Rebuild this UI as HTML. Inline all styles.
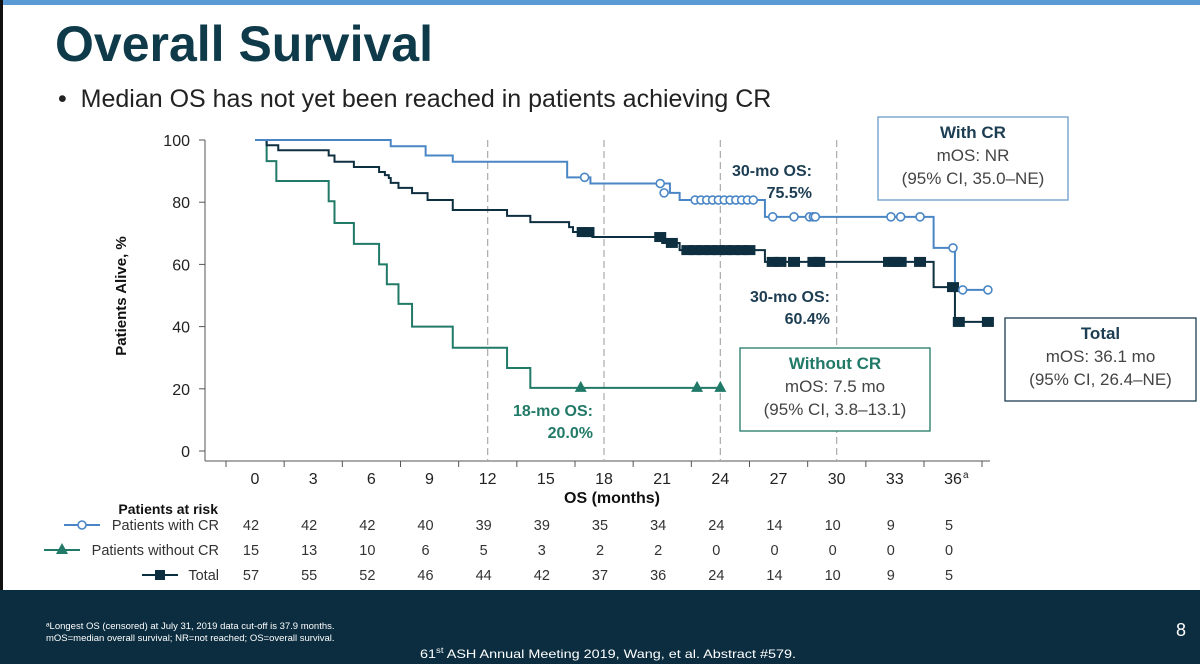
<!DOCTYPE html>
<html><head><meta charset="utf-8">
<style>
body{margin:0;width:1200px;height:664px;overflow:hidden;background:#fff;font-family:"Liberation Sans",Arial,sans-serif;position:relative}
.abs{position:absolute}
</style></head>
<body>
<div class="abs" style="left:0;top:0;width:1200px;height:5px;background:#5b9bd5"></div>
<div class="abs" style="left:0;top:0;width:3px;height:590px;background:#111"></div>
<div class="abs" style="left:55px;top:15px;font-size:50px;font-weight:bold;color:#0e3a4a">Overall Survival</div>
<div class="abs" style="left:58px;top:85px;font-size:25px;color:#222">•&nbsp; Median OS has not yet been reached in patients achieving CR</div>
<svg class="abs" style="left:0;top:0" width="1200" height="590" id="chart"></svg>
<div class="abs" style="left:0;top:590px;width:1200px;height:74px;background:#0b2d3f;color:#fff">
  <div class="abs" style="left:46px;top:31px;font-size:9.5px;line-height:12px">ᵃLongest OS (censored) at July 31, 2019 data cut-off is 37.9 months.<br>mOS=median overall survival; NR=not reached; OS=overall survival.</div>
  <div class="abs" style="left:420px;top:56px;font-size:12px;transform:scaleX(1.2);transform-origin:left top;white-space:nowrap">61<sup style="font-size:8px">st</sup> ASH Annual Meeting 2019, Wang, et al. Abstract #579.</div>
  <div class="abs" style="left:1176px;top:30px;font-size:18px">8</div>
</div>
<script>
const xTicks=[0,3,6,9,12,15,18,21,24,27,30,33,36];
const yTicks=[0,20,40,60,80,100];
const dashedMonths=[12,18,24,30];
const crTimes=[0,7.0,8.8,10.2,16.1,17.3,21.4,21.9,26.3,35.0,36.1,37.8];
const crVals=[100,98,95,93,88,86,83,80.7,75.3,65.3,51.8,51.8];
const crCens=[[17.0,88],[20.9,86],[21.1,83],[22.7,80.7],[23.0,80.7],[23.3,80.7],[23.6,80.7],[23.9,80.7],[24.2,80.7],[24.5,80.7],[24.8,80.7],[25.1,80.7],[25.4,80.7],[25.7,80.7],[26.7,75.3],[27.8,75.3],[28.6,75.3],[28.8,75.3],[28.9,75.3],[32.8,75.3],[33.3,75.3],[34.3,75.3],[36.0,65.3],[36.5,51.8],[37.8,51.8]];
const ncrTimes=[0,0.6,1.1,3.8,4.1,5.1,6.4,6.8,7.4,8.1,10.2,13.0,14.2,24.0];
const ncrVals=[100,93.2,86.8,80.3,73.3,66.6,60,53.6,47.3,40,33.2,26.7,20.3,20.3];
const ncrCens=[[16.8,20.3],[22.8,20.3],[24.0,20.3]];
const totTimes=[0,0.6,1.2,3.8,4.1,5.1,6.4,6.7,6.9,7.0,7.4,8.1,8.9,10.2,13.0,14.2,16.2,16.4,17.4,21.0,21.9,26.3,35.0,36.1,37.8];
const totVals=[100,98.3,96.7,95,93,91.3,89.7,88.7,87.8,86.2,84.6,82.9,80.7,77.5,75.6,73.6,72,70.4,68.8,66.9,64.6,60.8,52.7,41.5,41.5];
const totCens=[[16.9,70.4],[17.2,70.4],[20.9,68.8],[21.5,66.9],[22.3,64.6],[22.7,64.6],[23.1,64.6],[23.5,64.6],[23.9,64.6],[24.3,64.6],[24.7,64.6],[25.1,64.6],[25.5,64.6],[26.7,60.8],[27.1,60.8],[27.8,60.8],[28.8,60.8],[29.1,60.8],[32.7,60.8],[33.0,60.8],[33.3,60.8],[34.3,60.8],[36.0,52.7],[36.3,41.5],[37.8,41.5]];
const riskCR=[42,42,42,40,39,39,35,34,24,14,10,9,5];
const riskNCR=[15,13,10,6,5,3,2,2,0,0,0,0,0];
const riskTot=[57,55,52,46,44,42,37,36,24,14,10,9,5];

const X=t=>255+t*(953-255)/36;
const Y=v=>451-v*3.11;
const NS='http://www.w3.org/2000/svg';
const svg=document.getElementById('chart');
function mk(tag,attrs,parent){const e=document.createElementNS(NS,tag);for(const k in attrs)e.setAttribute(k,attrs[k]);(parent||svg).appendChild(e);return e;}
function txt(x,y,s,attrs){const e=mk('text',Object.assign({x:x,y:y},attrs||{}));e.textContent=s;return e;}

let ax=mk('line',{x1:205,y1:140,x2:205,y2:461,stroke:'#555','stroke-width':1});


let axx=mk('line',{x1:205,y1:461,x2:990,y2:461,stroke:'#555','stroke-width':1});


yTicks.forEach(v=>{
  mk('line',{x1:199,y1:Y(v),x2:205,y2:Y(v),stroke:'#555'});
  const t=txt(190,Y(v)+6,String(v),{'font-size':16,'text-anchor':'end',fill:'#222'});
  
  
});
xTicks.forEach((m,i)=>{
  mk('line',{x1:X(m)-29,y1:461,x2:X(m)-29,y2:467,stroke:'#555'});
  const t=txt(X(m),484,String(m),{'font-size':16,'text-anchor':'middle',fill:'#222'});
  
  
});
mk('line',{x1:X(36)+29,y1:461,x2:X(36)+29,y2:467,stroke:'#555'});
txt(X(36)+10,478,'a',{'font-size':10,fill:'#222'});
dashedMonths.forEach(m=>{
  const l=mk('line',{x1:X(m),y1:140,x2:X(m),y2:461,stroke:'#aaa','stroke-dasharray':'7,4','stroke-width':1.2});
  
  
});
const xt=txt(612,503,'OS (months)',{'font-size':16,'font-weight':'bold','text-anchor':'middle',fill:'#111'});


const yt=txt(0,0,'Patients Alive, %',{'font-size':15,'font-weight':'bold','text-anchor':'middle',fill:'#111',transform:'translate(126,296) rotate(-90)'});



function stepPath(ts,vs){let d='M'+X(ts[0])+','+Y(vs[0]);for(let i=1;i<ts.length;i++){d+=' H'+X(ts[i])+' V'+Y(vs[i]);}return d;}
const colCR='#4a86c5',colN='#217a67',colT='#0e2f40';
let p1=mk('path',{d:stepPath(ncrTimes,ncrVals),fill:'none',stroke:colN,'stroke-width':2});


let p2=mk('path',{d:stepPath(totTimes,totVals),fill:'none',stroke:colT,'stroke-width':2});


let p3=mk('path',{d:stepPath(crTimes,crVals),fill:'none',stroke:colCR,'stroke-width':2});


totCens.forEach(c=>{const r=mk('rect',{x:X(c[0])-6,y:Y(c[1])-5,width:12,height:10,fill:colT});
  
  });
crCens.forEach(c=>{const r=mk('circle',{cx:X(c[0]),cy:Y(c[1]),r:4,fill:'#fff',stroke:colCR,'stroke-width':1.6});
  
  });
ncrCens.forEach(c=>{const x=X(c[0]),y=Y(c[1]);const r=mk('polygon',{points:(x-6)+','+(y+4)+' '+(x+6)+','+(y+4)+' '+x+','+(y-7),fill:colN});
  
  });

function ann(x,y,lines,col,name){lines.forEach((s,i)=>{const t=txt(x,y+i*22,s,{'font-size':16,'font-weight':'bold','text-anchor':'end',fill:col});
  
  });}
ann(812,176,['30-mo OS:','75.5%'],'#1c3d52','cr-30mo-annotation');
ann(830,302,['30-mo OS:','60.4%'],'#1c3d52','total-30mo-annotation');
ann(593,416,['18-mo OS:','20.0%'],colN,'without-cr-18mo-annotation');
function box(x,y,w,h,stroke,title,tcol,l2,l3,name){
  const r=mk('rect',{x:x,y:y,width:w,height:h,fill:'#fff',stroke:stroke,'stroke-width':1.3});
  
  
  txt(x+w/2,y+21,title,{'font-size':17,'font-weight':'bold','text-anchor':'middle',fill:tcol});
  txt(x+w/2,y+44,l2,{'font-size':17,'text-anchor':'middle',fill:'#444'});
  txt(x+w/2,y+67,l3,{'font-size':17,'text-anchor':'middle',fill:'#444'});
}
box(878,117,190,83,'#6a9cc9','With CR','#1c3d52','mOS: NR','(95% CI, 35.0–NE)','with-cr-box');
box(1005,318,191,83,'#1c3d52','Total','#1c3d52','mOS: 36.1 mo','(95% CI, 26.4–NE)','total-box');
box(740,348,190,83,colN,'Without CR',colN,'mOS: 7.5 mo','(95% CI, 3.8–13.1)','without-cr-box');

const h=txt(218,514,'Patients at risk',{'font-size':14,'font-weight':'bold','text-anchor':'end',fill:'#111'});


const rows=[[riskCR,'Patients with CR',530,colCR,'c',64],[riskNCR,'Patients without CR',555,colN,'t',44],[riskTot,'Total',580,colT,'s',142]];
rows.forEach(r=>{
  const lab=txt(219,r[2],r[1],{'font-size':14.5,'text-anchor':'end',fill:'#333'});
  
  
  const lx=r[5],cy=r[2]-5;
  mk('line',{x1:lx,y1:cy,x2:lx+36,y2:cy,stroke:r[3],'stroke-width':2});
  const mx=lx+18;
  if(r[4]=='c')mk('circle',{cx:mx,cy:cy,r:4,fill:'#fff',stroke:r[3],'stroke-width':1.6});
  if(r[4]=='t')mk('polygon',{points:(mx-6)+','+(cy+4)+' '+(mx+6)+','+(cy+4)+' '+mx+','+(cy-7),fill:r[3]});
  if(r[4]=='s')mk('rect',{x:mx-5,y:cy-5,width:10,height:10,fill:r[3]});
  r[0].forEach((n,i)=>{const t=txt(X(xTicks[i])-4,r[2],String(n),{'font-size':14.5,'text-anchor':'middle',fill:'#333'});
    
    });
});
</script>
</body></html>
